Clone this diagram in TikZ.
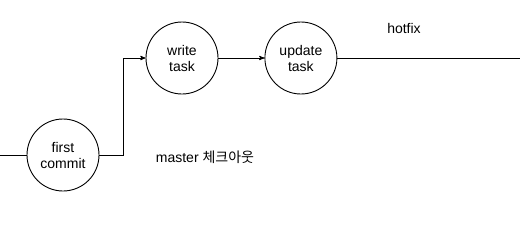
\documentclass[tikz,border=0pt]{standalone}
\usepackage{fontspec}
\setmainfont{Liberation Sans}
\newfontfamily\kofont{Noto Sans CJK KR}
\usetikzlibrary{arrows}
\usetikzlibrary{positioning,shapes}

\begin{document}
\begin{tikzpicture}[x=1pt,y=1pt,
  commit/.style={draw,circle,minimum size=72pt,inner sep=0pt,align=center,
    font=\fontsize{14}{16}\selectfont},
  lbl/.style={font=\fontsize{14}{16}\selectfont},
  line width=0.9pt,
  >=stealth']
  \useasboundingbox (0,0) rectangle (520,226);
  \node (first) [commit] at (63,71) {first\\commit};
  \node (write) [commit] at (182,168) {write\\task};
  \node (update) [commit, right=46pt of write] {update\\task};
  \node (hotfix) [lbl] at (404,198) {hotfix};
  \node (master) [lbl] at (205,69) {master {\kofont 체크아웃}};
  \coordinate (in) at (0,71);
  \coordinate (out) at (520,168);
  \draw (in) -- (first);
  \draw[->] (first.east) -- ++(24,0) |- (write.west);
  \draw[->] (write) -- (update);
  \draw (update) -- (out);
\end{tikzpicture}
\end{document}
